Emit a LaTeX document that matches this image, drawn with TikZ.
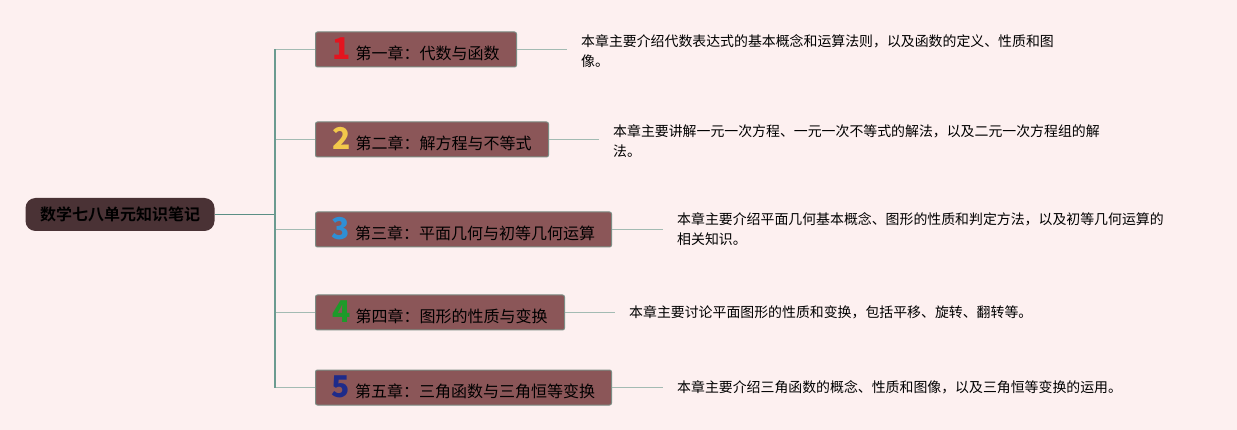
\documentclass[tikz,border=0pt]{standalone}
\usepackage{fontspec}
\setmainfont{Noto Sans CJK SC}
\newfontfamily\cjkbold{Noto Sans CJK SC}[BoldFont={* Bold}]
\usetikzlibrary{positioning}
\definecolor{bgpink}{HTML}{FDF0F0}
\definecolor{rootfill}{HTML}{4A3235}
\definecolor{boxfill}{HTML}{8B5658}
\definecolor{boxline}{HTML}{7C8C84}
\definecolor{trunkline}{HTML}{6B9B90}
\definecolor{rootline}{HTML}{5B8F85}
\definecolor{branchline}{HTML}{A3BBB3}
\definecolor{numA}{HTML}{E3141F}
\definecolor{numB}{HTML}{F2C84B}
\definecolor{numC}{HTML}{2F8FD5}
\definecolor{numD}{HTML}{1E9A2A}
\definecolor{numE}{HTML}{1E2B8A}
\newcommand\chapnum[2]{{\bfseries\fontsize{30pt}{30pt}\selectfont\color{#1}#2}}
\tikzset{
	rootbox/.style={fill=rootfill,rounded corners=10pt,minimum width=189pt,minimum height=33pt,inner sep=0pt,font=\cjkbold\bfseries\fontsize{16pt}{16pt}\selectfont,text=black},
	chapbox/.style={fill=boxfill,draw=boxline,line width=1pt,rounded corners=2pt,minimum height=35pt,inner sep=0pt,anchor=west,font=\fontsize{16pt}{16pt}\selectfont,text=black},
	descnote/.style={anchor=north west,inner xsep=14pt,inner ysep=0pt,align=left,font=\fontsize{13.9pt}{20pt}\selectfont,text=black}
}
\begin{document}
\begin{tikzpicture}[x=1pt,y=-1pt]
		\useasboundingbox (0,0) rectangle (1237,430);
		\fill[bgpink] (0,0) rectangle (1237,430);
		\node[rootbox] (root) at (120,214.5) {数学七八单元知识笔记};
		\coordinate (fork) at (275,214.5);
		\draw[rootline,line width=1.6pt] (root.east) -- (fork);
		\foreach \i/\y/\w/\col/\dx/\dy/\title/\desc in
		{
		1/49.5/201/numA/567/34/{第一章：代数与函数}/{本章主要介绍代数表达式的基本概念和运算法则，以及函数的定义、性质和图\\像。},
		2/139.5/233/numB/599/124/{第二章：解方程与不等式}/{本章主要讲解一元一次方程、一元一次不等式的解法，以及二元一次方程组的解\\法。},
		3/229.5/296/numC/663/212/{第三章：平面几何与初等几何运算}/{本章主要介绍平面几何基本概念、图形的性质和判定方法，以及初等几何运算的\\相关知识。},
		4/312.5/249/numD/615/305/{第四章：图形的性质与变换}/{本章主要讨论平面图形的性质和变换，包括平移、旋转、翻转等。},
		5/387.5/296/numE/663/380/{第五章：三角函数与三角恒等变换}/{本章主要介绍三角函数的概念、性质和图像，以及三角恒等变换的运用。}
		}
		{
		\coordinate (t\i) at (275,\y);
		\node[chapbox,minimum width=\w pt] (c\i) at (315,\y) {\chapnum{\col}{\i}\hspace{5pt}\title};
		\node[descnote] (d\i) at (\dx,\dy) {\desc};
		\draw[branchline,line width=1.2pt] (t\i) -- (c\i.west);
		\draw[branchline,line width=1.2pt] (c\i.east) -- (c\i.east -| d\i.west);
		}
		\draw[trunkline,line width=1.3pt] (t1) -- (t5);
	\end{tikzpicture}
\end{document}
